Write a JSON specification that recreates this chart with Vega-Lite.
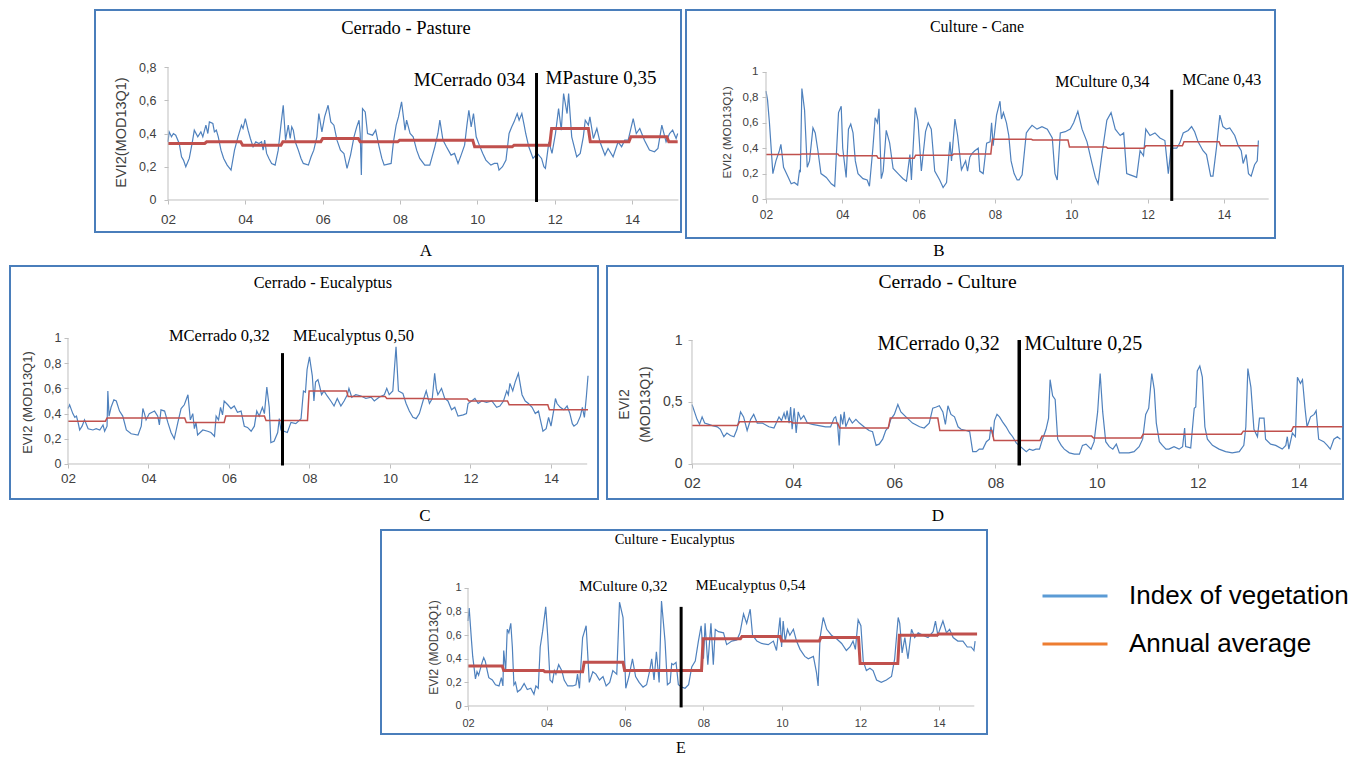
{
"$schema":"https://vega.github.io/schema/vega-lite/v6.json",
"padding":{"left":9,"top":9,"right":0,"bottom":0},
"background":"white",
"spacing":4,
"config":{"view":{"stroke":null},
 "axis":{"grid":false,"domain":false,"ticks":true,"tickSize":4,"tickColor":"#BFBFBF","labelColor":"#404040","labelFont":"Liberation Sans","titleFont":"Liberation Sans","titleFontWeight":"normal","titleColor":"#404040"}},
"datasets":{
"Ab":[{"t":2.00,"v":0.35},{"t":2.03,"v":0.41},{"t":2.09,"v":0.38},{"t":2.14,"v":0.40},{"t":2.20,"v":0.39},{"t":2.29,"v":0.34},{"t":2.35,"v":0.26},{"t":2.40,"v":0.24},{"t":2.46,"v":0.20},{"t":2.55,"v":0.25},{"t":2.63,"v":0.35},{"t":2.68,"v":0.42},{"t":2.77,"v":0.38},{"t":2.85,"v":0.41},{"t":2.90,"v":0.38},{"t":2.98,"v":0.45},{"t":3.03,"v":0.40},{"t":3.07,"v":0.47},{"t":3.16,"v":0.46},{"t":3.20,"v":0.41},{"t":3.25,"v":0.42},{"t":3.30,"v":0.38},{"t":3.37,"v":0.30},{"t":3.44,"v":0.25},{"t":3.53,"v":0.21},{"t":3.63,"v":0.18},{"t":3.72,"v":0.30},{"t":3.81,"v":0.38},{"t":3.90,"v":0.45},{"t":3.94,"v":0.43},{"t":4.00,"v":0.49},{"t":4.07,"v":0.42},{"t":4.13,"v":0.37},{"t":4.20,"v":0.32},{"t":4.27,"v":0.35},{"t":4.35,"v":0.34},{"t":4.42,"v":0.35},{"t":4.46,"v":0.30},{"t":4.50,"v":0.36},{"t":4.55,"v":0.28},{"t":4.61,"v":0.25},{"t":4.68,"v":0.22},{"t":4.77,"v":0.21},{"t":4.85,"v":0.30},{"t":4.92,"v":0.45},{"t":4.98,"v":0.57},{"t":5.04,"v":0.36},{"t":5.11,"v":0.45},{"t":5.16,"v":0.37},{"t":5.20,"v":0.44},{"t":5.24,"v":0.42},{"t":5.29,"v":0.35},{"t":5.37,"v":0.30},{"t":5.44,"v":0.25},{"t":5.50,"v":0.22},{"t":5.63,"v":0.21},{"t":5.70,"v":0.26},{"t":5.77,"v":0.30},{"t":5.85,"v":0.38},{"t":5.90,"v":0.52},{"t":5.98,"v":0.41},{"t":6.05,"v":0.50},{"t":6.14,"v":0.57},{"t":6.21,"v":0.47},{"t":6.29,"v":0.45},{"t":6.37,"v":0.36},{"t":6.46,"v":0.30},{"t":6.55,"v":0.28},{"t":6.63,"v":0.19},{"t":6.72,"v":0.27},{"t":6.81,"v":0.38},{"t":6.88,"v":0.44},{"t":6.94,"v":0.48},{"t":6.97,"v":0.40},{"t":7.00,"v":0.15},{"t":7.03,"v":0.55},{"t":7.10,"v":0.53},{"t":7.16,"v":0.40},{"t":7.29,"v":0.39},{"t":7.37,"v":0.42},{"t":7.46,"v":0.32},{"t":7.53,"v":0.25},{"t":7.59,"v":0.21},{"t":7.77,"v":0.22},{"t":7.83,"v":0.35},{"t":7.90,"v":0.45},{"t":7.96,"v":0.50},{"t":8.04,"v":0.59},{"t":8.13,"v":0.42},{"t":8.17,"v":0.48},{"t":8.26,"v":0.40},{"t":8.34,"v":0.38},{"t":8.43,"v":0.30},{"t":8.51,"v":0.25},{"t":8.64,"v":0.21},{"t":8.77,"v":0.21},{"t":8.90,"v":0.32},{"t":8.98,"v":0.40},{"t":9.03,"v":0.48},{"t":9.11,"v":0.36},{"t":9.20,"v":0.32},{"t":9.32,"v":0.27},{"t":9.41,"v":0.28},{"t":9.50,"v":0.22},{"t":9.58,"v":0.27},{"t":9.67,"v":0.33},{"t":9.73,"v":0.45},{"t":9.78,"v":0.54},{"t":9.84,"v":0.44},{"t":9.90,"v":0.52},{"t":9.97,"v":0.38},{"t":10.05,"v":0.33},{"t":10.14,"v":0.28},{"t":10.22,"v":0.24},{"t":10.35,"v":0.21},{"t":10.44,"v":0.22},{"t":10.52,"v":0.22},{"t":10.56,"v":0.18},{"t":10.65,"v":0.20},{"t":10.74,"v":0.24},{"t":10.82,"v":0.40},{"t":10.89,"v":0.44},{"t":10.95,"v":0.47},{"t":11.03,"v":0.52},{"t":11.08,"v":0.48},{"t":11.15,"v":0.52},{"t":11.21,"v":0.45},{"t":11.25,"v":0.40},{"t":11.33,"v":0.32},{"t":11.44,"v":0.25},{"t":11.55,"v":0.28},{"t":11.66,"v":0.25},{"t":11.72,"v":0.20},{"t":11.76,"v":0.19},{"t":11.85,"v":0.35},{"t":11.93,"v":0.28},{"t":12.02,"v":0.40},{"t":12.10,"v":0.55},{"t":12.17,"v":0.42},{"t":12.23,"v":0.64},{"t":12.32,"v":0.52},{"t":12.36,"v":0.64},{"t":12.44,"v":0.38},{"t":12.57,"v":0.26},{"t":12.66,"v":0.28},{"t":12.74,"v":0.38},{"t":12.79,"v":0.48},{"t":12.87,"v":0.45},{"t":12.91,"v":0.50},{"t":13.00,"v":0.37},{"t":13.09,"v":0.43},{"t":13.17,"v":0.35},{"t":13.30,"v":0.27},{"t":13.38,"v":0.31},{"t":13.51,"v":0.26},{"t":13.64,"v":0.35},{"t":13.73,"v":0.32},{"t":13.81,"v":0.36},{"t":13.90,"v":0.36},{"t":14.03,"v":0.49},{"t":14.11,"v":0.40},{"t":14.20,"v":0.43},{"t":14.32,"v":0.36},{"t":14.45,"v":0.30},{"t":14.58,"v":0.29},{"t":14.67,"v":0.31},{"t":14.77,"v":0.45},{"t":14.88,"v":0.35},{"t":14.97,"v":0.40},{"t":15.05,"v":0.42},{"t":15.14,"v":0.37},{"t":15.18,"v":0.40}],
"Ar":[{"t":2.00,"v":0.34},{"t":2.95,"v":0.34},{"t":3.00,"v":0.35},{"t":3.88,"v":0.35},{"t":3.93,"v":0.33},{"t":4.92,"v":0.33},{"t":4.97,"v":0.35},{"t":5.95,"v":0.35},{"t":6.00,"v":0.37},{"t":6.92,"v":0.37},{"t":6.97,"v":0.35},{"t":7.94,"v":0.35},{"t":7.99,"v":0.36},{"t":9.88,"v":0.36},{"t":9.93,"v":0.32},{"t":10.90,"v":0.32},{"t":10.95,"v":0.33},{"t":11.87,"v":0.33},{"t":11.92,"v":0.43},{"t":12.87,"v":0.43},{"t":12.92,"v":0.35},{"t":13.92,"v":0.35},{"t":13.97,"v":0.38},{"t":14.90,"v":0.38},{"t":14.95,"v":0.35},{"t":15.18,"v":0.35}],
"Bb":[{"t":2.00,"v":0.85},{"t":2.04,"v":0.78},{"t":2.09,"v":0.60},{"t":2.18,"v":0.20},{"t":2.26,"v":0.30},{"t":2.35,"v":0.38},{"t":2.39,"v":0.43},{"t":2.46,"v":0.25},{"t":2.57,"v":0.18},{"t":2.66,"v":0.12},{"t":2.74,"v":0.13},{"t":2.83,"v":0.11},{"t":2.88,"v":0.23},{"t":2.90,"v":0.21},{"t":2.94,"v":0.87},{"t":3.01,"v":0.70},{"t":3.08,"v":0.25},{"t":3.14,"v":0.30},{"t":3.23,"v":0.56},{"t":3.29,"v":0.52},{"t":3.36,"v":0.38},{"t":3.44,"v":0.20},{"t":3.58,"v":0.17},{"t":3.71,"v":0.12},{"t":3.80,"v":0.10},{"t":3.90,"v":0.68},{"t":3.97,"v":0.73},{"t":4.01,"v":0.40},{"t":4.10,"v":0.17},{"t":4.16,"v":0.55},{"t":4.22,"v":0.59},{"t":4.28,"v":0.52},{"t":4.34,"v":0.30},{"t":4.41,"v":0.20},{"t":4.54,"v":0.16},{"t":4.65,"v":0.15},{"t":4.71,"v":0.10},{"t":4.80,"v":0.40},{"t":4.86,"v":0.64},{"t":4.92,"v":0.60},{"t":4.96,"v":0.71},{"t":5.02,"v":0.16},{"t":5.07,"v":0.22},{"t":5.15,"v":0.54},{"t":5.24,"v":0.44},{"t":5.33,"v":0.24},{"t":5.46,"v":0.20},{"t":5.59,"v":0.16},{"t":5.68,"v":0.14},{"t":5.77,"v":0.35},{"t":5.81,"v":0.15},{"t":5.91,"v":0.72},{"t":5.98,"v":0.62},{"t":6.07,"v":0.22},{"t":6.18,"v":0.53},{"t":6.25,"v":0.60},{"t":6.33,"v":0.55},{"t":6.42,"v":0.22},{"t":6.55,"v":0.15},{"t":6.64,"v":0.09},{"t":6.73,"v":0.13},{"t":6.82,"v":0.45},{"t":6.86,"v":0.30},{"t":6.95,"v":0.63},{"t":7.02,"v":0.50},{"t":7.12,"v":0.23},{"t":7.23,"v":0.30},{"t":7.28,"v":0.22},{"t":7.34,"v":0.33},{"t":7.40,"v":0.36},{"t":7.47,"v":0.38},{"t":7.56,"v":0.40},{"t":7.60,"v":0.22},{"t":7.69,"v":0.20},{"t":7.78,"v":0.44},{"t":7.87,"v":0.45},{"t":7.91,"v":0.60},{"t":7.95,"v":0.42},{"t":8.04,"v":0.66},{"t":8.13,"v":0.77},{"t":8.17,"v":0.63},{"t":8.22,"v":0.68},{"t":8.30,"v":0.60},{"t":8.36,"v":0.50},{"t":8.42,"v":0.30},{"t":8.50,"v":0.20},{"t":8.58,"v":0.15},{"t":8.63,"v":0.15},{"t":8.71,"v":0.19},{"t":8.82,"v":0.52},{"t":8.89,"v":0.55},{"t":8.97,"v":0.58},{"t":9.10,"v":0.55},{"t":9.23,"v":0.57},{"t":9.37,"v":0.55},{"t":9.50,"v":0.48},{"t":9.57,"v":0.20},{"t":9.63,"v":0.15},{"t":9.71,"v":0.52},{"t":9.84,"v":0.53},{"t":9.97,"v":0.55},{"t":10.06,"v":0.60},{"t":10.17,"v":0.69},{"t":10.28,"v":0.55},{"t":10.41,"v":0.45},{"t":10.54,"v":0.28},{"t":10.63,"v":0.17},{"t":10.70,"v":0.12},{"t":10.80,"v":0.35},{"t":10.93,"v":0.62},{"t":11.04,"v":0.68},{"t":11.15,"v":0.55},{"t":11.28,"v":0.50},{"t":11.37,"v":0.52},{"t":11.45,"v":0.20},{"t":11.54,"v":0.19},{"t":11.63,"v":0.18},{"t":11.71,"v":0.17},{"t":11.80,"v":0.38},{"t":11.89,"v":0.34},{"t":11.95,"v":0.55},{"t":12.06,"v":0.50},{"t":12.19,"v":0.52},{"t":12.32,"v":0.48},{"t":12.45,"v":0.46},{"t":12.54,"v":0.20},{"t":12.61,"v":0.40},{"t":12.76,"v":0.40},{"t":12.84,"v":0.44},{"t":12.93,"v":0.52},{"t":13.06,"v":0.54},{"t":13.15,"v":0.57},{"t":13.23,"v":0.53},{"t":13.32,"v":0.45},{"t":13.45,"v":0.38},{"t":13.54,"v":0.35},{"t":13.65,"v":0.18},{"t":13.71,"v":0.18},{"t":13.80,"v":0.40},{"t":13.89,"v":0.66},{"t":13.97,"v":0.57},{"t":14.06,"v":0.55},{"t":14.15,"v":0.56},{"t":14.28,"v":0.50},{"t":14.37,"v":0.42},{"t":14.45,"v":0.38},{"t":14.50,"v":0.28},{"t":14.58,"v":0.35},{"t":14.64,"v":0.20},{"t":14.71,"v":0.18},{"t":14.80,"v":0.27},{"t":14.87,"v":0.30},{"t":14.90,"v":0.46}],
"Br":[{"t":2.00,"v":0.35},{"t":2.90,"v":0.35},{"t":2.94,"v":0.355},{"t":3.88,"v":0.355},{"t":3.92,"v":0.34},{"t":4.90,"v":0.34},{"t":4.94,"v":0.32},{"t":5.88,"v":0.32},{"t":5.92,"v":0.345},{"t":6.88,"v":0.345},{"t":6.92,"v":0.355},{"t":7.89,"v":0.355},{"t":7.93,"v":0.47},{"t":8.95,"v":0.47},{"t":8.99,"v":0.465},{"t":9.91,"v":0.465},{"t":9.95,"v":0.41},{"t":10.91,"v":0.41},{"t":10.95,"v":0.40},{"t":11.91,"v":0.40},{"t":11.95,"v":0.42},{"t":12.91,"v":0.42},{"t":12.95,"v":0.45},{"t":13.87,"v":0.45},{"t":13.91,"v":0.42},{"t":14.90,"v":0.42}],
"Cb":[{"t":2.00,"v":0.44},{"t":2.04,"v":0.47},{"t":2.12,"v":0.40},{"t":2.17,"v":0.37},{"t":2.21,"v":0.38},{"t":2.25,"v":0.33},{"t":2.29,"v":0.27},{"t":2.35,"v":0.30},{"t":2.41,"v":0.35},{"t":2.50,"v":0.28},{"t":2.62,"v":0.27},{"t":2.70,"v":0.28},{"t":2.79,"v":0.27},{"t":2.87,"v":0.31},{"t":2.91,"v":0.26},{"t":2.97,"v":0.30},{"t":2.99,"v":0.58},{"t":3.02,"v":0.38},{"t":3.07,"v":0.45},{"t":3.14,"v":0.51},{"t":3.20,"v":0.50},{"t":3.28,"v":0.42},{"t":3.36,"v":0.38},{"t":3.45,"v":0.27},{"t":3.57,"v":0.24},{"t":3.74,"v":0.23},{"t":3.82,"v":0.30},{"t":3.86,"v":0.44},{"t":3.90,"v":0.40},{"t":3.94,"v":0.35},{"t":4.02,"v":0.40},{"t":4.15,"v":0.42},{"t":4.23,"v":0.38},{"t":4.27,"v":0.31},{"t":4.31,"v":0.43},{"t":4.40,"v":0.42},{"t":4.48,"v":0.33},{"t":4.56,"v":0.25},{"t":4.64,"v":0.20},{"t":4.73,"v":0.33},{"t":4.81,"v":0.44},{"t":4.89,"v":0.47},{"t":4.98,"v":0.55},{"t":5.04,"v":0.35},{"t":5.10,"v":0.40},{"t":5.14,"v":0.28},{"t":5.18,"v":0.33},{"t":5.22,"v":0.23},{"t":5.35,"v":0.27},{"t":5.47,"v":0.26},{"t":5.55,"v":0.25},{"t":5.64,"v":0.22},{"t":5.68,"v":0.38},{"t":5.74,"v":0.35},{"t":5.79,"v":0.45},{"t":5.84,"v":0.39},{"t":5.88,"v":0.50},{"t":5.97,"v":0.47},{"t":6.05,"v":0.44},{"t":6.13,"v":0.46},{"t":6.21,"v":0.41},{"t":6.30,"v":0.42},{"t":6.38,"v":0.30},{"t":6.46,"v":0.29},{"t":6.55,"v":0.26},{"t":6.63,"v":0.30},{"t":6.69,"v":0.42},{"t":6.75,"v":0.38},{"t":6.83,"v":0.45},{"t":6.88,"v":0.40},{"t":6.94,"v":0.61},{"t":7.00,"v":0.45},{"t":7.04,"v":0.17},{"t":7.12,"v":0.18},{"t":7.21,"v":0.25},{"t":7.25,"v":0.36},{"t":7.29,"v":0.27},{"t":7.45,"v":0.25},{"t":7.54,"v":0.33},{"t":7.66,"v":0.32},{"t":7.79,"v":0.36},{"t":7.85,"v":0.58},{"t":7.90,"v":0.57},{"t":7.94,"v":0.75},{"t":8.00,"v":0.85},{"t":8.07,"v":0.70},{"t":8.11,"v":0.50},{"t":8.15,"v":0.65},{"t":8.21,"v":0.67},{"t":8.25,"v":0.62},{"t":8.30,"v":0.55},{"t":8.36,"v":0.58},{"t":8.44,"v":0.54},{"t":8.53,"v":0.50},{"t":8.61,"v":0.46},{"t":8.69,"v":0.52},{"t":8.78,"v":0.46},{"t":8.86,"v":0.50},{"t":8.94,"v":0.55},{"t":8.98,"v":0.60},{"t":9.05,"v":0.53},{"t":9.15,"v":0.55},{"t":9.28,"v":0.54},{"t":9.40,"v":0.52},{"t":9.53,"v":0.53},{"t":9.61,"v":0.50},{"t":9.73,"v":0.53},{"t":9.86,"v":0.55},{"t":9.92,"v":0.60},{"t":9.98,"v":0.55},{"t":10.07,"v":0.58},{"t":10.15,"v":0.93},{"t":10.21,"v":0.58},{"t":10.32,"v":0.56},{"t":10.40,"v":0.48},{"t":10.48,"v":0.42},{"t":10.57,"v":0.37},{"t":10.65,"v":0.36},{"t":10.73,"v":0.40},{"t":10.82,"v":0.50},{"t":10.90,"v":0.58},{"t":10.98,"v":0.48},{"t":11.05,"v":0.52},{"t":11.11,"v":0.72},{"t":11.15,"v":0.60},{"t":11.19,"v":0.55},{"t":11.28,"v":0.60},{"t":11.36,"v":0.52},{"t":11.44,"v":0.50},{"t":11.53,"v":0.43},{"t":11.61,"v":0.45},{"t":11.69,"v":0.38},{"t":11.82,"v":0.39},{"t":11.90,"v":0.40},{"t":11.94,"v":0.48},{"t":12.03,"v":0.50},{"t":12.11,"v":0.52},{"t":12.19,"v":0.48},{"t":12.28,"v":0.50},{"t":12.40,"v":0.49},{"t":12.53,"v":0.50},{"t":12.65,"v":0.45},{"t":12.73,"v":0.46},{"t":12.82,"v":0.50},{"t":12.90,"v":0.58},{"t":12.94,"v":0.55},{"t":12.98,"v":0.64},{"t":13.05,"v":0.58},{"t":13.11,"v":0.65},{"t":13.19,"v":0.72},{"t":13.28,"v":0.55},{"t":13.36,"v":0.50},{"t":13.44,"v":0.48},{"t":13.53,"v":0.45},{"t":13.61,"v":0.40},{"t":13.69,"v":0.42},{"t":13.73,"v":0.36},{"t":13.80,"v":0.26},{"t":13.88,"v":0.28},{"t":13.94,"v":0.37},{"t":14.00,"v":0.30},{"t":14.07,"v":0.43},{"t":14.11,"v":0.52},{"t":14.15,"v":0.48},{"t":14.23,"v":0.45},{"t":14.32,"v":0.43},{"t":14.40,"v":0.46},{"t":14.47,"v":0.40},{"t":14.53,"v":0.32},{"t":14.57,"v":0.30},{"t":14.65,"v":0.32},{"t":14.73,"v":0.38},{"t":14.78,"v":0.45},{"t":14.83,"v":0.37},{"t":14.88,"v":0.54},{"t":14.92,"v":0.70}],
"Cr":[{"t":2.00,"v":0.34},{"t":2.93,"v":0.34},{"t":2.97,"v":0.365},{"t":4.90,"v":0.365},{"t":4.94,"v":0.33},{"t":5.88,"v":0.33},{"t":5.92,"v":0.38},{"t":6.88,"v":0.38},{"t":6.92,"v":0.345},{"t":7.95,"v":0.345},{"t":7.99,"v":0.58},{"t":8.92,"v":0.58},{"t":8.96,"v":0.535},{"t":9.88,"v":0.535},{"t":9.92,"v":0.52},{"t":10.92,"v":0.52},{"t":10.96,"v":0.515},{"t":11.92,"v":0.515},{"t":11.96,"v":0.50},{"t":12.92,"v":0.50},{"t":12.96,"v":0.47},{"t":13.92,"v":0.47},{"t":13.96,"v":0.43},{"t":14.92,"v":0.43}],
"Db":[{"t":2.00,"v":0.48},{"t":2.05,"v":0.42},{"t":2.10,"v":0.36},{"t":2.15,"v":0.32},{"t":2.20,"v":0.38},{"t":2.25,"v":0.33},{"t":2.33,"v":0.32},{"t":2.40,"v":0.31},{"t":2.50,"v":0.30},{"t":2.56,"v":0.28},{"t":2.63,"v":0.22},{"t":2.69,"v":0.25},{"t":2.76,"v":0.23},{"t":2.83,"v":0.22},{"t":2.89,"v":0.28},{"t":2.96,"v":0.42},{"t":3.02,"v":0.38},{"t":3.09,"v":0.27},{"t":3.16,"v":0.36},{"t":3.22,"v":0.40},{"t":3.29,"v":0.33},{"t":3.39,"v":0.33},{"t":3.52,"v":0.30},{"t":3.62,"v":0.29},{"t":3.72,"v":0.38},{"t":3.77,"v":0.35},{"t":3.82,"v":0.41},{"t":3.85,"v":0.36},{"t":3.88,"v":0.43},{"t":3.92,"v":0.33},{"t":3.95,"v":0.46},{"t":3.98,"v":0.28},{"t":4.02,"v":0.45},{"t":4.06,"v":0.25},{"t":4.10,"v":0.42},{"t":4.15,"v":0.36},{"t":4.21,"v":0.39},{"t":4.28,"v":0.33},{"t":4.38,"v":0.32},{"t":4.51,"v":0.31},{"t":4.64,"v":0.30},{"t":4.74,"v":0.30},{"t":4.81,"v":0.37},{"t":4.84,"v":0.38},{"t":4.88,"v":0.31},{"t":4.91,"v":0.15},{"t":4.94,"v":0.40},{"t":4.98,"v":0.32},{"t":5.01,"v":0.42},{"t":5.04,"v":0.30},{"t":5.11,"v":0.37},{"t":5.17,"v":0.33},{"t":5.24,"v":0.36},{"t":5.31,"v":0.33},{"t":5.40,"v":0.30},{"t":5.50,"v":0.27},{"t":5.57,"v":0.26},{"t":5.64,"v":0.15},{"t":5.70,"v":0.16},{"t":5.77,"v":0.20},{"t":5.83,"v":0.27},{"t":5.89,"v":0.30},{"t":5.93,"v":0.36},{"t":6.00,"v":0.40},{"t":6.07,"v":0.48},{"t":6.13,"v":0.42},{"t":6.23,"v":0.38},{"t":6.36,"v":0.33},{"t":6.50,"v":0.30},{"t":6.59,"v":0.29},{"t":6.69,"v":0.33},{"t":6.76,"v":0.45},{"t":6.83,"v":0.46},{"t":6.89,"v":0.47},{"t":6.96,"v":0.42},{"t":7.01,"v":0.32},{"t":7.06,"v":0.47},{"t":7.12,"v":0.40},{"t":7.19,"v":0.38},{"t":7.26,"v":0.30},{"t":7.32,"v":0.28},{"t":7.42,"v":0.27},{"t":7.49,"v":0.26},{"t":7.55,"v":0.10},{"t":7.62,"v":0.10},{"t":7.68,"v":0.12},{"t":7.75,"v":0.12},{"t":7.82,"v":0.18},{"t":7.88,"v":0.20},{"t":7.91,"v":0.30},{"t":7.95,"v":0.22},{"t":7.98,"v":0.35},{"t":8.03,"v":0.40},{"t":8.08,"v":0.38},{"t":8.14,"v":0.34},{"t":8.21,"v":0.30},{"t":8.28,"v":0.25},{"t":8.34,"v":0.22},{"t":8.41,"v":0.17},{"t":8.61,"v":0.10},{"t":8.67,"v":0.12},{"t":8.74,"v":0.11},{"t":8.80,"v":0.12},{"t":8.87,"v":0.12},{"t":8.93,"v":0.20},{"t":9.00,"v":0.28},{"t":9.05,"v":0.37},{"t":9.08,"v":0.68},{"t":9.13,"v":0.55},{"t":9.18,"v":0.52},{"t":9.23,"v":0.20},{"t":9.30,"v":0.15},{"t":9.36,"v":0.12},{"t":9.46,"v":0.09},{"t":9.56,"v":0.08},{"t":9.66,"v":0.08},{"t":9.72,"v":0.15},{"t":9.79,"v":0.16},{"t":9.89,"v":0.12},{"t":9.95,"v":0.18},{"t":10.02,"v":0.42},{"t":10.07,"v":0.73},{"t":10.12,"v":0.42},{"t":10.18,"v":0.18},{"t":10.25,"v":0.14},{"t":10.32,"v":0.12},{"t":10.39,"v":0.16},{"t":10.45,"v":0.09},{"t":10.55,"v":0.09},{"t":10.64,"v":0.09},{"t":10.74,"v":0.10},{"t":10.84,"v":0.14},{"t":10.91,"v":0.20},{"t":10.97,"v":0.40},{"t":11.03,"v":0.45},{"t":11.09,"v":0.73},{"t":11.14,"v":0.60},{"t":11.18,"v":0.33},{"t":11.24,"v":0.18},{"t":11.30,"v":0.15},{"t":11.37,"v":0.12},{"t":11.43,"v":0.12},{"t":11.53,"v":0.14},{"t":11.63,"v":0.12},{"t":11.70,"v":0.14},{"t":11.74,"v":0.29},{"t":11.76,"v":0.14},{"t":11.86,"v":0.13},{"t":11.93,"v":0.45},{"t":11.96,"v":0.46},{"t":11.99,"v":0.75},{"t":12.04,"v":0.79},{"t":12.09,"v":0.70},{"t":12.14,"v":0.30},{"t":12.19,"v":0.20},{"t":12.29,"v":0.15},{"t":12.42,"v":0.12},{"t":12.55,"v":0.10},{"t":12.68,"v":0.09},{"t":12.82,"v":0.10},{"t":12.91,"v":0.15},{"t":12.95,"v":0.30},{"t":12.99,"v":0.77},{"t":13.05,"v":0.62},{"t":13.11,"v":0.28},{"t":13.18,"v":0.22},{"t":13.22,"v":0.37},{"t":13.31,"v":0.37},{"t":13.34,"v":0.20},{"t":13.44,"v":0.16},{"t":13.54,"v":0.15},{"t":13.67,"v":0.12},{"t":13.74,"v":0.15},{"t":13.77,"v":0.22},{"t":13.80,"v":0.12},{"t":13.87,"v":0.25},{"t":13.93,"v":0.22},{"t":13.97,"v":0.70},{"t":14.03,"v":0.65},{"t":14.07,"v":0.68},{"t":14.12,"v":0.45},{"t":14.16,"v":0.30},{"t":14.23,"v":0.38},{"t":14.30,"v":0.40},{"t":14.34,"v":0.43},{"t":14.39,"v":0.20},{"t":14.49,"v":0.18},{"t":14.56,"v":0.15},{"t":14.62,"v":0.12},{"t":14.69,"v":0.20},{"t":14.76,"v":0.22},{"t":14.82,"v":0.20}],
"Dr":[{"t":2.00,"v":0.31},{"t":2.90,"v":0.31},{"t":2.94,"v":0.34},{"t":3.96,"v":0.34},{"t":4.00,"v":0.33},{"t":4.88,"v":0.33},{"t":4.92,"v":0.29},{"t":5.88,"v":0.29},{"t":5.92,"v":0.37},{"t":6.86,"v":0.37},{"t":6.90,"v":0.27},{"t":7.93,"v":0.27},{"t":7.97,"v":0.19},{"t":8.88,"v":0.19},{"t":8.92,"v":0.225},{"t":9.90,"v":0.225},{"t":9.94,"v":0.21},{"t":10.88,"v":0.21},{"t":10.92,"v":0.24},{"t":12.86,"v":0.24},{"t":12.90,"v":0.265},{"t":13.85,"v":0.265},{"t":13.89,"v":0.30},{"t":14.86,"v":0.30}],
"Eb":[{"t":2.00,"v":0.72},{"t":2.03,"v":0.83},{"t":2.09,"v":0.55},{"t":2.12,"v":0.42},{"t":2.19,"v":0.23},{"t":2.23,"v":0.29},{"t":2.27,"v":0.26},{"t":2.36,"v":0.37},{"t":2.40,"v":0.41},{"t":2.44,"v":0.38},{"t":2.49,"v":0.30},{"t":2.53,"v":0.24},{"t":2.62,"v":0.22},{"t":2.70,"v":0.18},{"t":2.79,"v":0.17},{"t":2.85,"v":0.24},{"t":2.89,"v":0.17},{"t":2.91,"v":0.47},{"t":2.96,"v":0.30},{"t":3.00,"v":0.65},{"t":3.04,"v":0.62},{"t":3.09,"v":0.70},{"t":3.13,"v":0.50},{"t":3.17,"v":0.18},{"t":3.21,"v":0.20},{"t":3.26,"v":0.12},{"t":3.34,"v":0.14},{"t":3.43,"v":0.19},{"t":3.51,"v":0.14},{"t":3.60,"v":0.15},{"t":3.68,"v":0.10},{"t":3.73,"v":0.17},{"t":3.79,"v":0.15},{"t":3.84,"v":0.50},{"t":3.90,"v":0.63},{"t":3.98,"v":0.84},{"t":4.03,"v":0.60},{"t":4.09,"v":0.22},{"t":4.15,"v":0.20},{"t":4.20,"v":0.30},{"t":4.24,"v":0.27},{"t":4.31,"v":0.35},{"t":4.39,"v":0.30},{"t":4.45,"v":0.22},{"t":4.54,"v":0.17},{"t":4.67,"v":0.17},{"t":4.75,"v":0.18},{"t":4.79,"v":0.27},{"t":4.84,"v":0.15},{"t":4.92,"v":0.58},{"t":5.01,"v":0.68},{"t":5.09,"v":0.20},{"t":5.18,"v":0.29},{"t":5.26,"v":0.27},{"t":5.35,"v":0.22},{"t":5.44,"v":0.25},{"t":5.52,"v":0.17},{"t":5.61,"v":0.20},{"t":5.69,"v":0.30},{"t":5.79,"v":0.27},{"t":5.86,"v":0.88},{"t":5.95,"v":0.75},{"t":6.02,"v":0.15},{"t":6.10,"v":0.25},{"t":6.19,"v":0.40},{"t":6.27,"v":0.25},{"t":6.36,"v":0.20},{"t":6.46,"v":0.16},{"t":6.55,"v":0.18},{"t":6.63,"v":0.30},{"t":6.68,"v":0.40},{"t":6.74,"v":0.22},{"t":6.80,"v":0.46},{"t":6.87,"v":0.20},{"t":6.93,"v":0.89},{"t":7.02,"v":0.55},{"t":7.08,"v":0.18},{"t":7.15,"v":0.20},{"t":7.19,"v":0.36},{"t":7.23,"v":0.35},{"t":7.30,"v":0.37},{"t":7.36,"v":0.18},{"t":7.45,"v":0.16},{"t":7.53,"v":0.15},{"t":7.62,"v":0.18},{"t":7.70,"v":0.33},{"t":7.79,"v":0.38},{"t":7.87,"v":0.55},{"t":7.94,"v":0.68},{"t":8.00,"v":0.40},{"t":8.04,"v":0.70},{"t":8.11,"v":0.35},{"t":8.19,"v":0.70},{"t":8.25,"v":0.35},{"t":8.30,"v":0.65},{"t":8.38,"v":0.63},{"t":8.51,"v":0.62},{"t":8.59,"v":0.52},{"t":8.72,"v":0.55},{"t":8.85,"v":0.56},{"t":8.93,"v":0.62},{"t":9.02,"v":0.78},{"t":9.10,"v":0.70},{"t":9.19,"v":0.82},{"t":9.25,"v":0.60},{"t":9.36,"v":0.55},{"t":9.48,"v":0.53},{"t":9.65,"v":0.52},{"t":9.78,"v":0.55},{"t":9.86,"v":0.47},{"t":9.95,"v":0.75},{"t":9.99,"v":0.50},{"t":10.03,"v":0.72},{"t":10.08,"v":0.55},{"t":10.14,"v":0.65},{"t":10.20,"v":0.60},{"t":10.29,"v":0.65},{"t":10.37,"v":0.55},{"t":10.46,"v":0.48},{"t":10.58,"v":0.42},{"t":10.67,"v":0.40},{"t":10.80,"v":0.42},{"t":10.88,"v":0.28},{"t":10.92,"v":0.17},{"t":10.97,"v":0.58},{"t":11.05,"v":0.75},{"t":11.14,"v":0.65},{"t":11.26,"v":0.60},{"t":11.39,"v":0.57},{"t":11.52,"v":0.53},{"t":11.64,"v":0.47},{"t":11.73,"v":0.50},{"t":11.81,"v":0.55},{"t":11.87,"v":0.48},{"t":11.94,"v":0.73},{"t":12.01,"v":0.68},{"t":12.07,"v":0.38},{"t":12.15,"v":0.30},{"t":12.24,"v":0.32},{"t":12.32,"v":0.30},{"t":12.41,"v":0.22},{"t":12.53,"v":0.20},{"t":12.66,"v":0.22},{"t":12.79,"v":0.25},{"t":12.87,"v":0.40},{"t":12.96,"v":0.75},{"t":13.00,"v":0.70},{"t":13.06,"v":0.45},{"t":13.13,"v":0.58},{"t":13.21,"v":0.40},{"t":13.30,"v":0.65},{"t":13.38,"v":0.58},{"t":13.47,"v":0.62},{"t":13.59,"v":0.60},{"t":13.72,"v":0.58},{"t":13.85,"v":0.63},{"t":13.91,"v":0.72},{"t":13.97,"v":0.60},{"t":14.10,"v":0.72},{"t":14.19,"v":0.62},{"t":14.27,"v":0.65},{"t":14.36,"v":0.58},{"t":14.48,"v":0.55},{"t":14.61,"v":0.55},{"t":14.72,"v":0.50},{"t":14.82,"v":0.50},{"t":14.89,"v":0.47},{"t":14.92,"v":0.55}],
"Er":[{"t":2.00,"v":0.34},{"t":2.87,"v":0.34},{"t":2.91,"v":0.30},{"t":3.92,"v":0.30},{"t":3.96,"v":0.29},{"t":4.92,"v":0.29},{"t":4.96,"v":0.37},{"t":5.95,"v":0.37},{"t":5.99,"v":0.30},{"t":7.95,"v":0.30},{"t":7.99,"v":0.57},{"t":8.94,"v":0.57},{"t":8.98,"v":0.59},{"t":9.95,"v":0.59},{"t":9.99,"v":0.55},{"t":10.95,"v":0.55},{"t":10.99,"v":0.58},{"t":11.95,"v":0.58},{"t":11.99,"v":0.36},{"t":12.95,"v":0.36},{"t":12.99,"v":0.60},{"t":13.95,"v":0.60},{"t":13.99,"v":0.61},{"t":14.97,"v":0.61}]
},
"vconcat":[
{"spacing":0,"hconcat":[
 {"width":84,"height":1,"data":{"values":[{}]},"mark":{"type":"point","opacity":0,"size":0}},
 {"width":586,"height":222,"view":{"stroke":"#4A7EBB","strokeWidth":2},
  "layer":[
   {"data":{"name":"Ab"},"mark":{"type":"line","color":"#4F81BD","strokeWidth":1.2},
    "encoding":{
     "x":{"field":"t","type":"quantitative","scale":{"domain":[0.1122,15.266],"nice":false,"zero":false},
       "axis":{"values":[2,4,6,8,10,12,14],"format":"02d","offset":-32,"title":null,"labelFontSize":13.5,"labelPadding":8}},
     "y":{"field":"v","type":"quantitative","scale":{"domain":[-0.1925,1.1429],"nice":false,"zero":false},
       "axis":{"values":[0,0.2,0.4,0.6,0.8],"labelExpr":"replace(format(datum.value,'.1~f'),'.',',')","offset":-73,"title":"EVI2(MOD13Q1)","titleX":-40,"titleY":122,"titleFontSize":14.5,"labelFontSize":12.5,"labelPadding":8}}}},
   {"data":{"name":"Ar"},"mark":{"type":"line","color":"#C0504D","strokeWidth":3},"encoding":{"x":{"field":"t","type":"quantitative"},"y":{"field":"v","type":"quantitative"}}},
   {"data":{"values":[{}]},"mark":{"type":"rule","color":"#BFBFBF","strokeWidth":1},"encoding":{"x":{"datum":2},"x2":{"datum":15.2},"y":{"datum":0}}},
   {"data":{"values":[{}]},"mark":{"type":"rule","color":"#BFBFBF","strokeWidth":1},"encoding":{"x":{"datum":2},"y":{"datum":0},"y2":{"datum":0.8}}},
   {"data":{"values":[{}]},"mark":{"type":"rule","color":"#000","strokeWidth":3},"encoding":{"x":{"datum":11.53},"y":{"datum":-0.012},"y2":{"datum":0.764}}},
   {"data":{"values":[{}]},"mark":{"type":"text","font":"Liberation Serif","fontSize":18.5,"align":"center","baseline":"alphabetic","color":"#000"},"encoding":{"x":{"datum":8.155},"y":{"datum":1.0},"text":{"value":"Cerrado - Pasture"}}},
   {"data":{"values":[{}]},"mark":{"type":"text","font":"Liberation Serif","fontSize":19,"align":"center","baseline":"alphabetic","color":"#000"},"encoding":{"x":{"datum":9.797},"y":{"datum":0.6857},"text":{"value":"MCerrado 034"}}},
   {"data":{"values":[{}]},"mark":{"type":"text","font":"Liberation Serif","fontSize":19,"align":"center","baseline":"alphabetic","color":"#000"},"encoding":{"x":{"datum":13.197},"y":{"datum":0.6977},"text":{"value":"MPasture 0,35"}}},
   {"data":{"values":[{}]},"mark":{"type":"text","font":"Liberation Serif","fontSize":17,"align":"center","baseline":"alphabetic","color":"#000","clip":false},"encoding":{"x":{"datum":8.672},"y":{"datum":-0.3368},"text":{"value":"A"}}}
  ]},
 {"width":589,"height":228,"view":{"stroke":"#4A7EBB","strokeWidth":2},
  "layer":[
   {"data":{"name":"Bb"},"mark":{"type":"line","color":"#4F81BD","strokeWidth":1.2},
    "encoding":{
     "x":{"field":"t","type":"quantitative","scale":{"domain":[-0.096,15.335],"nice":false,"zero":false},
       "axis":{"values":[2,4,6,8,10,12,14],"format":"02d","offset":-39,"title":null,"labelFontSize":12,"labelPadding":6}},
     "y":{"field":"v","type":"quantitative","scale":{"domain":[-0.307,1.488],"nice":false,"zero":false},
       "axis":{"values":[0,0.2,0.4,0.6,0.8,1],"labelExpr":"replace(format(datum.value,'.1~f'),'.',',')","offset":-80,"title":"EVI2 (MOD13Q1)","titleX":-34,"titleY":122,"titleFontSize":11.7,"labelFontSize":11.5,"labelPadding":4}}}},
   {"data":{"name":"Br"},"mark":{"type":"line","color":"#C0504D","strokeWidth":1.5},"encoding":{"x":{"field":"t","type":"quantitative"},"y":{"field":"v","type":"quantitative"}}},
   {"data":{"values":[{}]},"mark":{"type":"rule","color":"#BFBFBF","strokeWidth":1},"encoding":{"x":{"datum":2},"x2":{"datum":15.17},"y":{"datum":0}}},
   {"data":{"values":[{}]},"mark":{"type":"rule","color":"#BFBFBF","strokeWidth":1},"encoding":{"x":{"datum":2},"y":{"datum":0},"y2":{"datum":1}}},
   {"data":{"values":[{}]},"mark":{"type":"rule","color":"#000","strokeWidth":3},"encoding":{"x":{"datum":12.63},"y":{"datum":-0.015},"y2":{"datum":0.86}}},
   {"data":{"values":[{}]},"mark":{"type":"text","font":"Liberation Serif","fontSize":16,"align":"center","baseline":"alphabetic","color":"#000"},"encoding":{"x":{"datum":7.528},"y":{"datum":1.317},"text":{"value":"Culture - Cane"}}},
   {"data":{"values":[{}]},"mark":{"type":"text","font":"Liberation Serif","fontSize":16,"align":"center","baseline":"alphabetic","color":"#000"},"encoding":{"x":{"datum":10.811},"y":{"datum":0.8795},"text":{"value":"MCulture 0,34"}}},
   {"data":{"values":[{}]},"mark":{"type":"text","font":"Liberation Serif","fontSize":16,"align":"center","baseline":"alphabetic","color":"#000"},"encoding":{"x":{"datum":13.941},"y":{"datum":0.8976},"text":{"value":"MCane 0,43"}}},
   {"data":{"values":[{}]},"mark":{"type":"text","font":"Liberation Serif","fontSize":17,"align":"center","baseline":"alphabetic","color":"#000","clip":false},"encoding":{"x":{"datum":6.532},"y":{"datum":-0.4488},"text":{"value":"B"}}}
  ]}
]},
{"spacing":7,"hconcat":[
 {"width":588,"height":233,"view":{"stroke":"#4A7EBB","strokeWidth":2},
  "layer":[
   {"data":{"name":"Cb"},"mark":{"type":"line","color":"#4F81BD","strokeWidth":1.2},
    "encoding":{
     "x":{"field":"t","type":"quantitative","scale":{"domain":[0.559,15.168],"nice":false,"zero":false},
       "axis":{"values":[2,4,6,8,10,12,14],"format":"02d","offset":-35,"title":null,"labelFontSize":13.5,"labelPadding":3}},
     "y":{"field":"v","type":"quantitative","scale":{"domain":[-0.2778,1.5714],"nice":false,"zero":false},
       "axis":{"values":[0,0.2,0.4,0.6,0.8,1],"labelExpr":"replace(format(datum.value,'.1~f'),'.',',')","offset":-58,"title":"EVI2 (MOD13Q1)","titleX":-33.5,"titleY":136,"titleFontSize":13,"labelFontSize":12.5,"labelPadding":3}}}},
   {"data":{"name":"Cr"},"mark":{"type":"line","color":"#C0504D","strokeWidth":1.5},"encoding":{"x":{"field":"t","type":"quantitative"},"y":{"field":"v","type":"quantitative"}}},
   {"data":{"values":[{}]},"mark":{"type":"rule","color":"#BFBFBF","strokeWidth":1},"encoding":{"x":{"datum":2},"x2":{"datum":14.9},"y":{"datum":0}}},
   {"data":{"values":[{}]},"mark":{"type":"rule","color":"#BFBFBF","strokeWidth":1},"encoding":{"x":{"datum":2},"y":{"datum":0},"y2":{"datum":1}}},
   {"data":{"values":[{}]},"mark":{"type":"rule","color":"#000","strokeWidth":3},"encoding":{"x":{"datum":7.33},"y":{"datum":-0.012},"y2":{"datum":0.88}}},
   {"data":{"values":[{}]},"mark":{"type":"text","font":"Liberation Serif","fontSize":16.3,"align":"center","baseline":"alphabetic","color":"#000"},"encoding":{"x":{"datum":8.333},"y":{"datum":1.399},"text":{"value":"Cerrado - Eucalyptus"}}},
   {"data":{"values":[{}]},"mark":{"type":"text","font":"Liberation Serif","fontSize":16.5,"align":"center","baseline":"alphabetic","color":"#000"},"encoding":{"x":{"datum":5.759},"y":{"datum":0.976},"text":{"value":"MCerrado 0,32"}}},
   {"data":{"values":[{}]},"mark":{"type":"text","font":"Liberation Serif","fontSize":16.5,"align":"center","baseline":"alphabetic","color":"#000"},"encoding":{"x":{"datum":9.091},"y":{"datum":0.976},"text":{"value":"MEucalyptus 0,50"}}},
   {"data":{"values":[{}]},"mark":{"type":"text","font":"Liberation Serif","fontSize":17,"align":"center","baseline":"alphabetic","color":"#000","clip":false},"encoding":{"x":{"datum":10.87},"y":{"datum":-0.4524},"text":{"value":"C"}}}
  ]},
 {"width":736,"height":233,"view":{"stroke":"#4A7EBB","strokeWidth":2},
  "layer":[
   {"data":{"name":"Db"},"mark":{"type":"line","color":"#4F81BD","strokeWidth":1.2},
    "encoding":{
     "x":{"field":"t","type":"quantitative","scale":{"domain":[0.3195,14.871],"nice":false,"zero":false},
       "axis":{"values":[2,4,6,8,10,12,14],"format":"02d","offset":-35,"title":null,"labelFontSize":15,"labelPadding":7}},
     "y":{"field":"v","type":"quantitative","scale":{"domain":[-0.2823,1.5968],"nice":false,"zero":false},
       "axis":{"values":[0,0.5,1],"labelExpr":"replace(format(datum.value,'.1~f'),'.',',')","offset":-85,"title":["EVI2","(MOD13Q1)"],"titleX":-61,"titleY":138,"titleFontSize":14,"titleLineHeight":21,"labelFontSize":14,"labelPadding":6}}}},
   {"data":{"name":"Dr"},"mark":{"type":"line","color":"#C0504D","strokeWidth":1.5},"encoding":{"x":{"field":"t","type":"quantitative"},"y":{"field":"v","type":"quantitative"}}},
   {"data":{"values":[{}]},"mark":{"type":"rule","color":"#BFBFBF","strokeWidth":1},"encoding":{"x":{"datum":2},"x2":{"datum":14.83},"y":{"datum":0}}},
   {"data":{"values":[{}]},"mark":{"type":"rule","color":"#BFBFBF","strokeWidth":1},"encoding":{"x":{"datum":2},"y":{"datum":0},"y2":{"datum":1}}},
   {"data":{"values":[{}]},"mark":{"type":"rule","color":"#000","strokeWidth":3.5},"encoding":{"x":{"datum":8.47},"y":{"datum":-0.012},"y2":{"datum":1.0}}},
   {"data":{"values":[{}]},"mark":{"type":"text","font":"Liberation Serif","fontSize":19.6,"align":"center","baseline":"alphabetic","color":"#000"},"encoding":{"x":{"datum":7.051},"y":{"datum":1.419},"text":{"value":"Cerrado - Culture"}}},
   {"data":{"values":[{}]},"mark":{"type":"text","font":"Liberation Serif","fontSize":20,"align":"center","baseline":"alphabetic","color":"#000"},"encoding":{"x":{"datum":6.877},"y":{"datum":0.917},"text":{"value":"MCerrado 0,32"}}},
   {"data":{"values":[{}]},"mark":{"type":"text","font":"Liberation Serif","fontSize":20,"align":"center","baseline":"alphabetic","color":"#000"},"encoding":{"x":{"datum":9.736},"y":{"datum":0.917},"text":{"value":"MCulture 0,25"}}},
   {"data":{"values":[{}]},"mark":{"type":"text","font":"Liberation Serif","fontSize":17,"align":"center","baseline":"alphabetic","color":"#000","clip":false},"encoding":{"x":{"datum":6.864},"y":{"datum":-0.4597},"text":{"value":"D"}}}
  ]}
]},
{"spacing":5,"hconcat":[
 {"width":365,"height":1,"data":{"values":[{}]},"mark":{"type":"point","opacity":0,"size":0}},
 {"width":606,"height":204,"view":{"stroke":"#4A7EBB","strokeWidth":2},
  "layer":[
   {"data":{"name":"Eb"},"mark":{"type":"line","color":"#4F81BD","strokeWidth":1.2},
    "encoding":{
     "x":{"field":"t","type":"quantitative","scale":{"domain":[-0.2166,15.223],"nice":false,"zero":false},
       "axis":{"values":[2,4,6,8,10,12,14],"format":"02d","offset":-28,"title":null,"labelFontSize":11,"labelPadding":7}},
     "y":{"field":"v","type":"quantitative","scale":{"domain":[-0.2373,1.4915],"nice":false,"zero":false},
       "axis":{"values":[0,0.2,0.4,0.6,0.8,1],"labelExpr":"replace(format(datum.value,'.1~f'),'.',',')","offset":-87,"title":"EVI2 (MOD13Q1)","titleX":-28,"titleY":117,"titleFontSize":12,"labelFontSize":11,"labelPadding":3}}}},
   {"data":{"name":"Er"},"mark":{"type":"line","color":"#C0504D","strokeWidth":3},"encoding":{"x":{"field":"t","type":"quantitative"},"y":{"field":"v","type":"quantitative"}}},
   {"data":{"values":[{}]},"mark":{"type":"rule","color":"#BFBFBF","strokeWidth":1},"encoding":{"x":{"datum":2},"x2":{"datum":14.9},"y":{"datum":0}}},
   {"data":{"values":[{}]},"mark":{"type":"rule","color":"#BFBFBF","strokeWidth":1},"encoding":{"x":{"datum":2},"y":{"datum":0},"y2":{"datum":1}}},
   {"data":{"values":[{}]},"mark":{"type":"rule","color":"#000","strokeWidth":3},"encoding":{"x":{"datum":7.43},"y":{"datum":-0.012},"y2":{"datum":0.84}}},
   {"data":{"values":[{}]},"mark":{"type":"text","font":"Liberation Serif","fontSize":14.5,"align":"center","baseline":"alphabetic","color":"#000"},"encoding":{"x":{"datum":7.266},"y":{"datum":1.375},"text":{"value":"Culture - Eucalyptus"}}},
   {"data":{"values":[{}]},"mark":{"type":"text","font":"Liberation Serif","fontSize":15,"align":"center","baseline":"alphabetic","color":"#000"},"encoding":{"x":{"datum":5.957},"y":{"datum":0.975},"text":{"value":"MCulture 0,32"}}},
   {"data":{"values":[{}]},"mark":{"type":"text","font":"Liberation Serif","fontSize":15,"align":"center","baseline":"alphabetic","color":"#000"},"encoding":{"x":{"datum":9.197},"y":{"datum":0.981},"text":{"value":"MEucalyptus 0,54"}}},
   {"data":{"values":[{}]},"mark":{"type":"text","font":"Liberation Serif","fontSize":16,"align":"center","baseline":"alphabetic","color":"#000","clip":false},"encoding":{"x":{"datum":7.427},"y":{"datum":-0.40},"text":{"value":"E"}}},
   {"data":{"values":[{"s":"Index of vegetation"},{"s":"Annual average"}]},"transform":[{"filter":"false"}],"mark":{"type":"line"},
    "encoding":{"color":{"field":"s","type":"nominal","scale":{"domain":["Index of vegetation","Annual average"],"range":["#5B9BD5","#ED7D31"]},
      "legend":{"orient":"none","legendX":1031,"legendY":573,"title":null,"symbolType":"stroke","symbolSize":4225,"symbolStrokeWidth":3,"labelFont":"Liberation Sans","labelFontSize":26,"labelColor":"#000","labelOffset":20,"rowPadding":22,"clipHeight":26,"padding":0,"labelLimit":400}}}}
  ]}
]}
]
}
